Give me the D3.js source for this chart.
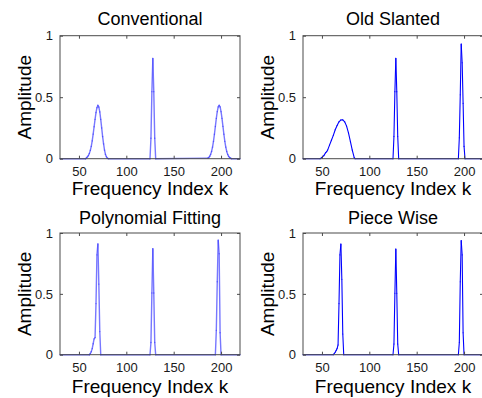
<!DOCTYPE html>
<html>
<head>
<meta charset="utf-8">
<script src="https://cdn.jsdelivr.net/npm/d3@7"></script>
<style>
  html, body { margin: 0; padding: 0; background: #fff; }
  svg { display: block; }
  text { font-family: "Liberation Sans", Arial, sans-serif; }
</style>
</head>
<body>
<svg id="chart" width="482" height="398"></svg>
<script>
// ---------------- data ----------------
const titles = ["Conventional", "Old Slanted", "Polynomial Fitting", "Piece Wise"];
const xLabel = "Frequency Index k";
const yLabel = "Amplitude";
const xTicks = [50, 100, 150, 200];
const yTicks = [0, 0.5, 1];
const xDomain = [30, 220];
const yDomain = [0, 1];

const convK = [30, 57, 58, 59, 60, 61, 62, 63, 64, 65, 66, 67, 68, 69, 70, 71, 72, 73, 74, 75, 76, 77, 78, 79, 80, 81,
  125, 126, 127, 128, 129, 130, 131,
  186, 187, 188, 189, 190, 191, 192, 193, 194, 195, 196, 197, 198, 199, 200, 201, 202, 203, 204, 205, 206, 207, 208, 209, 210, 211, 220];
const convA = [0, 0, 0.008, 0.015, 0.026, 0.043, 0.068, 0.10, 0.145, 0.20, 0.26, 0.32, 0.375, 0.415, 0.434, 0.42, 0.38, 0.32, 0.25, 0.18, 0.12, 0.07, 0.035, 0.015, 0.005, 0,
  0, 0.166, 0.545, 0.816, 0.545, 0.166, 0,
  0.005, 0.010, 0.019, 0.035, 0.059, 0.094, 0.141, 0.199, 0.263, 0.328, 0.383, 0.421, 0.434, 0.421, 0.383, 0.328, 0.263, 0.199, 0.141, 0.094, 0.059, 0.035, 0.019, 0.010, 0.005, 0, 0];

const oldK = [30, 48, 50, 52, 54, 55, 56, 58, 60, 62, 64, 66, 68, 70, 72, 74, 76, 78, 80, 82, 84, 85,
  125, 126, 127, 128, 129, 130, 131,
  194, 195, 196, 197, 198, 199, 200, 201, 220];
const oldA = [0, 0, 0.01, 0.025, 0.05, 0.057, 0.07, 0.11, 0.15, 0.19, 0.235, 0.27, 0.30, 0.315, 0.316, 0.30, 0.265, 0.21, 0.14, 0.07, 0.01, 0,
  0, 0.18, 0.545, 0.816, 0.545, 0.18, 0,
  0, 0.17, 0.52, 0.933, 0.78, 0.45, 0.10, 0, 0];

const polyK = [30, 61, 62, 63, 64, 65, 66, 67, 68, 69, 70, 71, 72, 73,
  125, 126, 127, 128, 129, 130, 131,
  194, 195, 196, 197, 198, 199, 200, 220];
const polyA = [0, 0, 0.01, 0.025, 0.05, 0.09, 0.13, 0.14, 0.42, 0.82, 0.91, 0.58, 0.19, 0,
  0, 0.1, 0.507, 0.87, 0.507, 0.1, 0,
  0, 0.2, 0.6, 0.94, 0.83, 0.18, 0, 0];

const pieceK = [30, 62, 63, 64, 65, 66, 67, 68, 69, 70, 71, 72, 73,
  125, 126, 127, 128, 129, 130, 131,
  194, 195, 196, 197, 198, 199, 200, 220];
const pieceA = [0, 0, 0.01, 0.02, 0.035, 0.05, 0.08, 0.42, 0.82, 0.91, 0.62, 0.17, 0,
  0, 0.088, 0.505, 0.869, 0.505, 0.088, 0,
  0, 0.1, 0.6, 0.937, 0.82, 0.18, 0, 0];

const seriesK = [convK, oldK, polyK, pieceK];
const seriesA = [convA, oldA, polyA, pieceA];

// ---------------- layout ----------------
const cols = [[60, 240], [303, 483]];
const rows = [[35.7, 158.7], [233, 354.7]];
const titleBase = [25, 224];
const xLabelBase = [195, 393];
const lineColor = ["#3d3dff", "#0000ff", "#3d3dff", "#0000ff"];
const lineOpacity = [0.7, 1, 0.7, 1];

const svg = d3.select("#chart");

for (let p = 0; p < 4; p++) {
  const c = cols[p % 2], r = rows[Math.floor(p / 2)];
  const x = d3.scaleLinear().domain(xDomain).range(c);
  const y = d3.scaleLinear().domain(yDomain).range([r[1], r[0]]);
  const g = svg.append("g");

  // line data (drawn as separate segments so overlapping strokes darken)
  const pts = seriesK[p].map((k, i) => [k, seriesA[p][i]]);
  const segs = d3.pairs(pts);
  g.append("g")
    .selectAll("line")
    .data(segs)
    .join("line")
    .attr("x1", d => x(d[0][0]))
    .attr("y1", d => y(d[0][1]))
    .attr("x2", d => x(d[1][0]))
    .attr("y2", d => y(d[1][1]))
    .attr("stroke", lineColor[p])
    .attr("stroke-opacity", lineOpacity[p])
    .attr("stroke-width", p % 2 === 0 ? 1.4 : 1.1)
    .attr("stroke-linecap", "round");

  // box
  g.append("rect")
    .attr("x", c[0]).attr("y", r[0])
    .attr("width", c[1] - c[0]).attr("height", r[1] - r[0])
    .attr("fill", "none").attr("stroke", "#4a4a4a").attr("stroke-width", 1);

  // axes (ticks inside)
  const bottom = g.append("g").attr("transform", `translate(0,${r[1]})`)
    .call(d3.axisBottom(x).tickValues(xTicks).tickSize(-3).tickPadding(8).tickFormat(d3.format("d")));
  const top = g.append("g").attr("transform", `translate(0,${r[0]})`)
    .call(d3.axisTop(x).tickValues(xTicks).tickSize(-3).tickFormat(""));
  const left = g.append("g").attr("transform", `translate(${c[0]},0)`)
    .call(d3.axisLeft(y).tickValues(yTicks).tickSize(-3).tickPadding(7).tickFormat(d => String(d)));
  const right = g.append("g").attr("transform", `translate(${c[1]},0)`)
    .call(d3.axisRight(y).tickValues(yTicks).tickSize(-3).tickFormat(""));
  [bottom, top, left, right].forEach(a => {
    a.select(".domain").remove();
    a.selectAll(".tick line").attr("stroke", "#4a4a4a");
    a.selectAll(".tick text")
      .attr("fill", "#1a1a1a")
      .style("font-family", "'Liberation Sans', Arial, sans-serif")
      .style("font-size", "13px");
  });

  // title
  g.append("text")
    .attr("x", (c[0] + c[1]) / 2).attr("y", titleBase[Math.floor(p / 2)])
    .attr("text-anchor", "middle")
    .style("font-size", "18px").attr("fill", "#000")
    .text(titles[p]);

  // x label
  g.append("text")
    .attr("x", (c[0] + c[1]) / 2).attr("y", xLabelBase[Math.floor(p / 2)])
    .attr("text-anchor", "middle")
    .style("font-size", "19px").attr("fill", "#000")
    .text(xLabel);

  // y label
  g.append("text")
    .attr("transform", `translate(${c[0] - 29},${(r[0] + r[1]) / 2}) rotate(-90)`)
    .attr("text-anchor", "middle")
    .style("font-size", "19px").attr("fill", "#000")
    .text(yLabel);
}
</script>
</body>
</html>
